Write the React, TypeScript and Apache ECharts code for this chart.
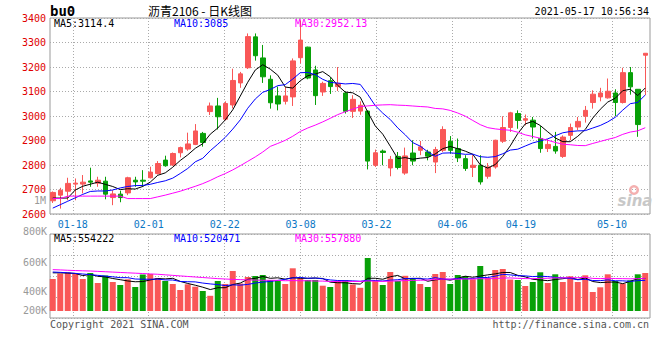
import React, { useEffect, useRef } from 'react';
import * as echarts from 'echarts';

const dates = [
  '01-13','01-14','01-15','01-18','01-19','01-20','01-21','01-22','01-25','01-26','01-27','01-28','01-29',
  '02-01','02-02','02-03','02-04','02-05','02-08','02-09','02-10','02-18','02-19','02-22','02-23','02-24','02-25','02-26',
  '03-01','03-02','03-03','03-04','03-05','03-08','03-09','03-10','03-11','03-12','03-15','03-16','03-17','03-18','03-19',
  '03-22','03-23','03-24','03-25','03-26','03-29','03-30','03-31',
  '04-01','04-02','04-06','04-07','04-08','04-09','04-12','04-13','04-14','04-15','04-16','04-19','04-20','04-21','04-22','04-23',
  '04-26','04-27','04-28','04-29','04-30',
  '05-06','05-07','05-10','05-11','05-12','05-13','05-14','05-17'
];
const tickLabels = ['01-18', '02-01', '02-22', '03-08', '03-22', '04-06', '04-19', '05-10'];
const priceTicks = { min: 2600, max: 3400, step: 100 };

const opens = [
  2654, 2677, 2693, 2722, 2722, 2735, 2726, 2734, 2667, 2681,
  2686, 2738, 2738, 2748, 2765, 2820, 2800, 2850, 2865, 2884,
  2929, 3018, 3041, 2987, 3045, 3135, 3197, 3323, 3237, 3150,
  3082, 3060, 3078, 3238, 3281, 3188, 3098, 3144, 3120, 3094,
  3019, 3020, 3020, 2799, 2857, 2788, 2835, 2767, 2849, 2860,
  2853, 2812, 2860, 2897, 2867, 2826, 2790, 2799, 2754, 2792,
  2897, 2953, 3010, 2983, 2983, 2908, 2867, 2876, 2835, 2921,
  2955, 2999, 3055, 3078, 3074, 3094, 3055, 3177, 3109, 3248
];
const closes = [
  2688, 2697, 2725, 2726, 2730, 2730, 2738, 2681, 2682, 2667,
  2748, 2731, 2734, 2771, 2806, 2797, 2847, 2871, 2886, 2939,
  2892, 3041, 2997, 3051, 3145, 3172, 3324, 3246, 3160, 3054,
  3049, 3082, 3225, 3310, 3155, 3083, 3133, 3120, 3133, 3019,
  3068, 3044, 2816, 2850, 2851, 2823, 2790, 2837, 2816, 2874,
  2836, 2863, 2945, 2860, 2829, 2786, 2799, 2731, 2792, 2901,
  2953, 3013, 2982, 2989, 2955, 2867, 2884, 2857, 2914, 2953,
  2978, 3023, 3089, 3094, 3101, 3055, 3177, 3119, 2965, 3256
];
const lows = [
  2645, 2622, 2656, 2656, 2684, 2711, 2711, 2660, 2636, 2648,
  2677, 2711, 2711, 2745, 2761, 2793, 2796, 2831, 2858, 2881,
  2875, 3004, 2945, 2982, 3031, 3115, 3192, 3226, 3135, 3030,
  3023, 3047, 3041, 3215, 3150, 3045, 3082, 3090, 3102, 3010,
  2992, 3005, 2782, 2792, 2799, 2754, 2782, 2760, 2799, 2840,
  2819, 2767, 2853, 2846, 2812, 2776, 2751, 2720, 2744, 2785,
  2890, 2935, 2948, 2962, 2908, 2850, 2853, 2846, 2829, 2901,
  2942, 2973, 3030, 3060, 3071, 3000, 3051, 3087, 2915, 3085
];
const highs = [
  2692, 2707, 2748, 2745, 2759, 2789, 2752, 2752, 2697, 2695,
  2752, 2752, 2779, 2793, 2816, 2838, 2851, 2875, 2932, 2967,
  2935, 3055, 3074, 3060, 3193, 3180, 3337, 3337, 3290, 3166,
  3120, 3118, 3235, 3390, 3283, 3205, 3140, 3158, 3200, 3101,
  3085, 3060, 3023, 2863, 2863, 2837, 2853, 2871, 2901, 2898,
  2862, 2874, 2958, 2918, 2908, 2840, 2840, 2840, 2808, 2903,
  2999, 3017, 3023, 3006, 2996, 2959, 2905, 2935, 2921, 2969,
  2996, 3041, 3105, 3115, 3153, 3109, 3197, 3200, 3110, 3256
];
const volumes = [
  552000, 612500, 623500, 607000, 552000, 618000, 508000, 590500, 519000, 486000,
  548700, 464000, 601500, 607000, 563000, 530000, 497000, 431000, 493700, 467300,
  420000, 367200, 530000, 497000, 640000, 502500, 574000, 585000, 596000, 541000,
  530000, 497000, 669700, 559700, 541000, 541000, 478300, 464000, 530000, 541000,
  491500, 455200, 783000, 530000, 486000, 629000, 530000, 587200, 557500, 497000,
  464000, 607000, 629000, 497000, 596000, 585000, 548700, 695000, 563000, 651000,
  662000, 546500, 541000, 475000, 519000, 625700, 508000, 603700, 519000, 581700,
  519000, 592700, 409000, 460700, 603700, 530000, 500300, 537700, 603700, 618000
];

// moving-average values before a full window exists
const ma5Head = [2665, 2665, 2665, 2698];
const ma10Head = [2624, 2638, 2652, 2666, 2680, 2692, 2694, 2694, 2698];
const ma30Head = [
  2663, 2663, 2673, 2673, 2673, 2673, 2673, 2673, 2673, 2673,
  2663, 2663, 2663, 2663, 2670, 2677, 2685, 2693, 2703, 2713,
  2724, 2737, 2752, 2765, 2780, 2797, 2815, 2833, 2853
];
const volMa5Head = [620000, 620000, 617000, 613000];
const volMa10Head = [629000, 625000, 620000, 614000, 607000, 600000, 592000, 584000, 576000];
const volMa30Head = [
  655000, 652000, 648000, 645000, 642000, 640000, 636000, 632000, 628000, 624000,
  620000, 616000, 612000, 608000, 604000, 598000, 592000, 586000, 580000, 574000,
  568000, 562000, 556000, 552000, 548000, 545000, 542000, 540000, 538000
];
const volTickLabels = ['800K', '600K', '400K', '200K'];

const RED = '#f95757';
const GREEN = '#08a008';
const MONO = 'DejaVu Sans Mono';

function movingAverage(values: number[], n: number, head: number[]) {
  return values.map((_, i) => {
    if (i < n - 1) return head[i];
    let s = 0;
    for (let k = i - n + 1; k <= i; k++) s += values[k];
    return +(s / n).toFixed(2);
  });
}

function txt(text: string, x: number, y: number, fill: string, extra: any = {}) {
  const align = extra.align || 'left';
  const fontSize = extra.fontSize || 10;
  return {
    type: 'text',
    silent: true,
    z: 10,
    style: {
      text, x, y, fill,
      fontFamily: extra.fontFamily || MONO,
      fontSize,
      lineHeight: extra.lineHeight || fontSize,
      fontWeight: extra.fontWeight || 'normal',
      fontStyle: extra.fontStyle || 'normal',
      align, textAlign: align,
      verticalAlign: 'middle', textVerticalAlign: 'middle',
    },
  };
}

export default function App() {
  const ref = useRef<HTMLDivElement>(null);

  useEffect(() => {
    document.body.style.margin = '0';
    const chart = echarts.init(ref.current!, undefined, { renderer: 'svg' });

    const ma5 = movingAverage(closes, 5, ma5Head);
    const ma10 = movingAverage(closes, 10, ma10Head);
    const ma30 = movingAverage(closes, 30, ma30Head);
    const vma5 = movingAverage(volumes, 5, volMa5Head);
    const vma10 = movingAverage(volumes, 10, volMa10Head);
    const vma30 = movingAverage(volumes, 30, volMa30Head);

    const isTick = (index: number) => tickLabels.indexOf(dates[index]) >= 0;
    const dotted = { color: '#aaaaaa', type: [1, 2], width: 1 };

    const lineSeries = (data: number[], color: string, xi: number, yi: number) => ({
      type: 'line', xAxisIndex: xi, yAxisIndex: yi, data,
      showSymbol: false, symbol: 'none', silent: true, z: 5,
      lineStyle: { color, width: 1 }, itemStyle: { color },
    });

    const volTickY = [231, 262, 291, 310];

    chart.setOption({
      animation: false,
      backgroundColor: '#ffffff',
      grid: [
        { left: 49, top: 18, width: 600, height: 196 },
        { left: 50, top: 18, width: 600, height: 196, show: true, borderColor: '#999999', borderWidth: 1, backgroundColor: 'transparent' },
        { left: 50, top: 234, width: 600, height: 84, show: true, borderColor: '#999999', borderWidth: 1, backgroundColor: 'transparent' },
        { left: 49, top: 234, width: 600, height: 77 },
      ],
      xAxis: [
        { gridIndex: 0, type: 'category', data: dates, boundaryGap: true, show: false },
        {
          gridIndex: 1, type: 'category', data: dates, boundaryGap: false,
          axisLine: { show: false }, axisTick: { show: false },
          axisLabel: { interval: isTick, color: '#0b77c5', fontFamily: MONO, fontSize: 10, margin: 5 },
          splitLine: { show: true, interval: isTick, lineStyle: dotted },
        },
        {
          gridIndex: 2, type: 'category', data: dates, boundaryGap: false,
          axisLine: { show: false }, axisTick: { show: false }, axisLabel: { show: false },
          splitLine: { show: true, interval: isTick, lineStyle: dotted },
        },
        { gridIndex: 3, type: 'category', data: dates, boundaryGap: true, show: false },
      ],
      yAxis: [
        { gridIndex: 0, type: 'value', min: priceTicks.min, max: priceTicks.max, show: false },
        {
          gridIndex: 1, type: 'value', min: priceTicks.min, max: priceTicks.max, interval: priceTicks.step,
          axisLine: { show: false }, axisTick: { show: false },
          axisLabel: {
            color: '#e00000', fontFamily: MONO, fontSize: 10, margin: 4, padding: [0, 0, 4, 0],
            formatter: (v: number) => String(v),
          },
          splitLine: { show: true, lineStyle: dotted },
        },
        {
          gridIndex: 2, type: 'value', min: 0, max: 84, interval: 21,
          axisLine: { show: false }, axisTick: { show: false }, axisLabel: { show: false },
          splitLine: { show: true, lineStyle: dotted },
        },
        { gridIndex: 3, type: 'value', min: 200000, max: 1047000, show: false },
      ],
      series: [
        {
          type: 'candlestick', xAxisIndex: 0, yAxisIndex: 0, barWidth: 5, silent: true,
          data: opens.map((o, i) => [o, closes[i], lows[i], highs[i]]),
          itemStyle: { color: RED, color0: GREEN, borderColor: RED, borderColor0: GREEN, borderWidth: 1 },
        },
        lineSeries(ma5, '#000000', 0, 0),
        lineSeries(ma10, '#0000ff', 0, 0),
        lineSeries(ma30, '#ff00ff', 0, 0),
        {
          type: 'bar', xAxisIndex: 3, yAxisIndex: 3, barWidth: 6, silent: true,
          data: volumes.map((v, i) => ({ value: v, itemStyle: { color: closes[i] >= opens[i] ? RED : GREEN } })),
        },
        lineSeries(vma5, '#000000', 3, 3),
        lineSeries(vma10, '#0000ff', 3, 3),
        lineSeries(vma30, '#ff00ff', 3, 3),
      ],
      graphic: [
        txt('bu0', 50, 10.5, '#000000', { fontSize: 14, fontWeight: 'bold' }),
        txt('沥青2106 - 日K线图', 200, 10.5, '#000000', { fontSize: 12, align: 'center', fontFamily: 'Noto Sans CJK SC' }),
        txt('2021-05-17 10:56:34', 649, 11.5, '#000000', { align: 'right' }),
        txt('MA5:3114.4', 54, 23.5, '#000000'),
        txt('MA10:3085', 174, 23.5, '#0000ff'),
        txt('MA30:2952.13', 295, 23.5, '#ff00ff'),
        txt('1M', 46, 200, '#999999', { align: 'right' }),
        ...volTickLabels.map((t, i) => txt(t, 47, volTickY[i], '#999999', { align: 'right' })),
        txt('MA5:554222', 54, 238.5, '#000000'),
        txt('MA10:520471', 174, 238.5, '#0000ff'),
        txt('MA30:557880', 295, 238.5, '#ff00ff'),
        txt('Copyright 2021 SINA.COM', 50, 324, '#555555'),
        txt('http://finance.sina.com.cn', 649, 324, '#555555', { align: 'right' }),
        {
          type: 'ring', silent: true, z: 1,
          shape: { cx: 634, cy: 190, r: 5, r0: 2.5 },
          style: { fill: '#f4b0b0' },
        },
        txt('sina', 635, 201, '#c8c8c8', { align: 'center', fontSize: 15, fontWeight: 'bold', fontStyle: 'italic', fontFamily: 'DejaVu Sans' }),
      ],
    });

    return () => chart.dispose();
  }, []);

  return (
    <div
      ref={ref}
      style={{ position: 'fixed', left: 0, top: 0, width: 660, height: 360, background: '#fff' }}
    />
  );
}
